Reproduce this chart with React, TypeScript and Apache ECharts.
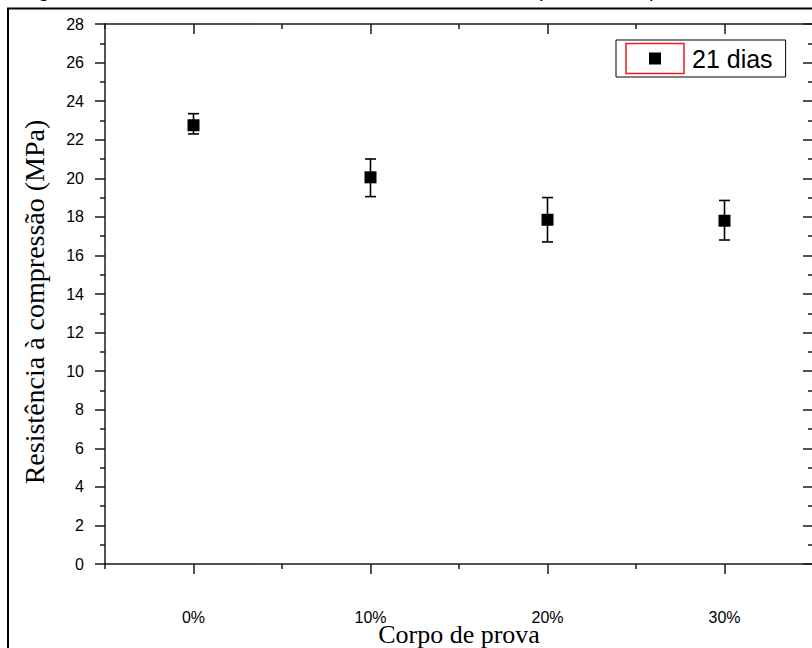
import React, { useEffect, useRef } from "react";
import * as echarts from "echarts";

const categories = ["0%", "10%", "20%", "30%"];
const means = [22.75, 20.05, 17.85, 17.8];
const errLow = [22.3, 19.05, 16.7, 16.8];
const errHigh = [23.35, 21.0, 19.0, 18.85];
const seriesName = "21 dias";
const yTitle = "Resistência à compressão (MPa)";
const xTitle = "Corpo de prova";
const caption = "Figura 10 – Resultados dos ensaios de resistência à compressão simples aos 21 dias";

const SANS = "'Liberation Sans', Arial, sans-serif";
const SERIF = "'Liberation Serif', 'Times New Roman', serif";
const AX = { color: "#1a1a1a", width: 1.5 };

export default function App() {
  const ref = useRef<HTMLDivElement>(null);
  useEffect(() => {
    document.body.style.margin = "0";
    const chart = echarts.init(ref.current!, null, { renderer: "svg" });
    const hiddenCat = {
      type: "category",
      data: categories,
      boundaryGap: true,
      axisLabel: { show: false },
      splitLine: { show: false },
    };
    chart.setOption({
      animation: false,
      backgroundColor: "#ffffff",
      grid: { left: 105, top: 24, width: 708, height: 540, outerBoundsMode: "none", containLabel: false },
      graphic: [
        {
          type: "rect",
          shape: { x: 8, y: 8.5, width: 900, height: 900 },
          style: { fill: "none", stroke: "#000", lineWidth: 2 },
          silent: true,
        },
        {
          type: "text",
          x: 21,
          y: -10,
          style: {
            text: caption,
            font: `20.4px ${SANS}`,
            fill: "#000",
            textVerticalAlign: "middle",
          },
          silent: true,
        },
        {
          type: "rect",
          shape: { x: 626, y: 43.5, width: 58, height: 30 },
          style: { fill: "none", stroke: "#ee1c1c", lineWidth: 1.5 },
          z: 100,
          silent: true,
        },
      ],
      legend: {
        data: [seriesName],
        left: 616,
        top: 40,
        orient: "horizontal",
        icon: "rect",
        itemWidth: 12,
        itemHeight: 12,
        padding: [4, 13, 4, 33],
        borderColor: "#000",
        borderWidth: 1,
        backgroundColor: "#fff",
        selectedMode: false,
        itemStyle: { color: "#000", opacity: 1 },
        textStyle: {
          fontFamily: SANS,
          fontSize: 25,
          lineHeight: 29,
          color: "#000",
          padding: [0, 0, 0, 26],
        },
      },
      xAxis: [
        {
          type: "category",
          data: categories,
          position: "bottom",
          boundaryGap: true,
          axisLine: { show: true, lineStyle: AX },
          axisTick: { show: true, alignWithLabel: true, length: 10, lineStyle: AX },
          axisLabel: { fontFamily: SANS, fontSize: 16, color: "#000", margin: 45 },
          splitLine: { show: false },
          name: xTitle,
          nameLocation: "middle",
          nameGap: 57,
          nameMoveOverlap: false,
          nameTextStyle: { fontFamily: SERIF, fontSize: 26, color: "#000" },
        },
        {
          ...hiddenCat,
          position: "bottom",
          axisLine: { show: false },
          axisTick: { show: true, length: 5, lineStyle: AX },
        },
        {
          ...hiddenCat,
          position: "top",
          axisLine: { show: true, lineStyle: AX },
          axisTick: { show: true, inside: true, alignWithLabel: true, length: 10, lineStyle: AX },
        },
        {
          ...hiddenCat,
          position: "top",
          axisLine: { show: false },
          axisTick: { show: true, inside: true, length: 5, lineStyle: AX },
        },
      ],
      yAxis: [
        {
          type: "value",
          position: "left",
          min: 0,
          max: 28,
          interval: 2,
          axisLine: { show: true, lineStyle: AX },
          axisTick: { show: true, length: 10, lineStyle: AX },
          minorTick: { show: true, splitNumber: 2, length: 5, lineStyle: AX },
          splitLine: { show: false },
          axisLabel: { fontFamily: SANS, fontSize: 16, color: "#000", margin: 21 },
          name: yTitle,
          nameLocation: "middle",
          nameGap: 57,
          nameMoveOverlap: false,
          nameTextStyle: { fontFamily: SERIF, fontSize: 28, color: "#000", padding: [0, 16, 0, 0] },
        },
        {
          type: "value",
          position: "right",
          min: 0,
          max: 28,
          interval: 2,
          axisLine: { show: true, lineStyle: AX },
          axisTick: { show: true, inside: true, length: 10, lineStyle: AX },
          minorTick: { show: true, splitNumber: 2, length: 5, lineStyle: AX },
          splitLine: { show: false },
          axisLabel: { show: false },
        },
      ],
      series: [
        {
          type: "custom",
          name: "erro",
          xAxisIndex: 0,
          yAxisIndex: 0,
          data: categories.map((c, i) => [i, errLow[i], errHigh[i]]),
          z: 2,
          renderItem: (params: any, api: any) => {
            const x = api.value(0);
            const lo = api.coord([x, api.value(1)]);
            const hi = api.coord([x, api.value(2)]);
            const half = 5.5;
            const style = { stroke: "#000", lineWidth: 1.6 };
            return {
              type: "group",
              children: [
                { type: "line", shape: { x1: lo[0], y1: lo[1], x2: hi[0], y2: hi[1] }, style },
                { type: "line", shape: { x1: hi[0] - half, y1: hi[1], x2: hi[0] + half, y2: hi[1] }, style },
                { type: "line", shape: { x1: lo[0] - half, y1: lo[1], x2: lo[0] + half, y2: lo[1] }, style },
              ],
            };
          },
        },
        {
          type: "scatter",
          name: seriesName,
          xAxisIndex: 0,
          yAxisIndex: 0,
          data: means,
          symbol: "rect",
          symbolSize: 12,
          itemStyle: { color: "#000", opacity: 1 },
          z: 3,
        },
      ],
    });
    return () => chart.dispose();
  }, []);
  return <div ref={ref} style={{ width: 812, height: 648 }} />;
}
